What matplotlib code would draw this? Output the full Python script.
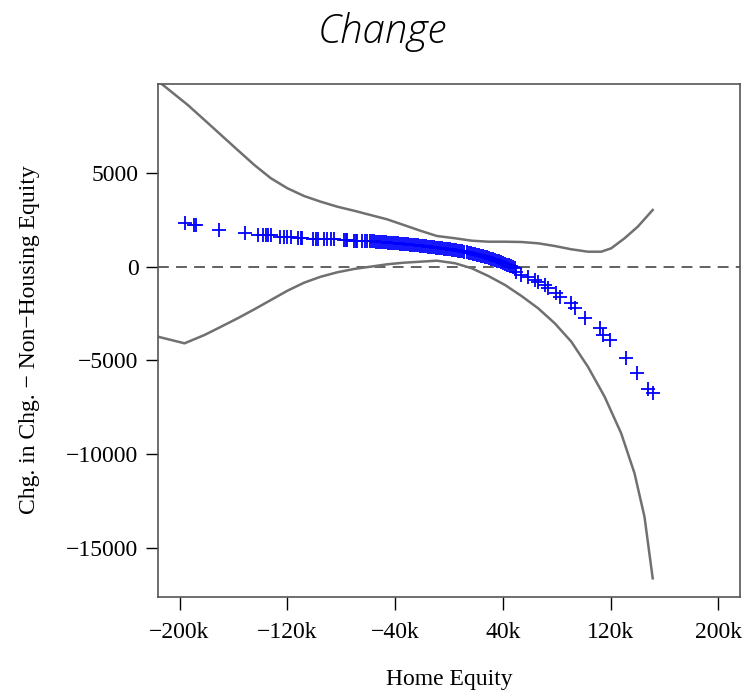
import numpy as np
import matplotlib
matplotlib.use("Agg")
import matplotlib.pyplot as plt

# home equity (thousands) and predicted effect for each observation
pts_x = [-196.3, -189.4, -187.7, -170.9, -151.4,
         -141.6, -138.4, -135.9, -134.2, -132.2, -125.3, -122.4, -119.9, -117.4,
         -112.0, -110.0, -108.8, -100.7, -98.9, -97.2, -92.8, -90.4, -87.8, -85.4,
         -78.0, -76.7, -75.6, -70.6, -69.4, -68.2, -64.7,
         -62, -60.5, -59, -57.5, -56, -54.5, -53, -51.5, -50, -48.5, -47, -45.5,
         -44, -42.5, -41, -39.5, -38, -36.5, -35, -33.5, -32, -30.5, -29, -27.5,
         -26, -24.5, -23, -21.5, -20, -18.5, -17, -15.5, -14, -12.5, -11, -9.5,
         -8, -6.5, -5, -3.5, -2, -0.5, 1, 2.5, 4, 5.5, 7, 8.5, 10, 11.5, 13,
         14.5, 16, 17.5, 19, 20.5, 22, 23.5, 25, 26.5, 28, 29.5, 31, 32.5, 34,
         35.5, 37, 38.5, 40, 41.5, 43, 44.5, 46, 47.5, 49,
         50.1, 53.8, 58.8, 63.7, 66.2, 71.1, 73.6, 79.7, 82.2, 90.8, 93.3, 100.7,
         111.8, 114.2, 119.2, 131.5, 139.6, 148.0, 151.2]
pts_y = [2337, 2246, 2246, 1979, 1802,
         1711, 1711, 1711, 1711, 1711, 1620, 1620, 1620, 1620,
         1567, 1567, 1567, 1513, 1513, 1513, 1481, 1481, 1481, 1481,
         1430, 1430, 1430, 1410, 1410, 1410, 1400,
         1395, 1388, 1381, 1374, 1367, 1360, 1353, 1345, 1337, 1328, 1318, 1308,
         1298, 1288, 1278, 1268, 1258, 1248, 1238, 1228, 1217, 1206, 1195, 1184,
         1173, 1162, 1150, 1138, 1126, 1114, 1102, 1090, 1077, 1064, 1051, 1038,
         1025, 1012, 999, 985, 971, 957, 942, 926, 910, 893, 875, 856, 836, 815, 793,
         770, 746, 721, 695, 668, 640, 611, 581, 550, 518, 485, 450, 414, 377,
         339, 300, 259, 217, 174, 130, 84, 37, -12, -62,
         -251, -428, -519, -695, -786, -963, -1139, -1406, -1588, -1941, -2209, -2744,
         -3278, -3637, -3904, -4883, -5653, -6540, -6754]

# confidence band
up_x = [-216.3, -212.3, -193.9, -181.5, -169.2, -156.9, -144.5, -132.2, -119.9,
        -107.6, -95.2, -82.9, -70.6, -58.3, -46.0, -33.6, -21.3, -9.0, 4.6, 16.9,
        29.2, 41.6, 53.8, 66.2, 78.5, 90.8, 103.1, 113.0, 120.4, 130.3, 140.1, 151.2]
up_y = [9950, 9733, 8664, 7862, 7059, 6257, 5455, 4744, 4209,
        3797, 3492, 3225, 3011, 2781, 2551, 2246, 1941, 1658, 1535, 1406,
        1353, 1353, 1337, 1267, 1123, 947, 818, 818, 1000, 1535, 2155, 3048]
lo_x = [-216.0, -196.3, -181.5, -169.2, -156.9, -144.5, -132.2, -119.9, -107.6,
        -95.2, -82.9, -70.6, -58.3, -46.0, -33.6, -21.3, -9.0, 4.6, 16.9, 29.2,
        41.6, 53.8, 66.2, 78.5, 90.8, 103.1, 115.5, 127.8, 137.7, 145.1, 151.2]
lo_y = [-3728, -4081, -3637, -3193, -2744, -2262, -1765, -1267, -840,
        -519, -283, -107, 16, 144, 230, 283, 337, 198, -70, -481,
        -963, -1551, -2209, -3011, -3995, -5332, -6936, -8894, -11033, -13354, -16648]

xticks = [-200, -120, -40, 40, 120, 200]
xtick_labels = ["\u2212200k", "\u2212120k", "\u221240k", "40k", "120k", "200k"]
yticks = [5000, 0, -5000, -10000, -15000]
ytick_labels = ["5000", "0", "\u22125000", "\u221210000", "\u221215000"]

serif = "Liberation Serif"

fig = plt.figure(figsize=(7.53, 6.97), dpi=100)
ax = fig.add_axes([158/753, 1 - 597/697, (740 - 158)/753, (597 - 84)/697])

ax.axhline(0, color="#555555", lw=1.3, ls=(0, (6, 4)), zorder=1)
ax.plot(up_x, up_y, color="#707070", lw=1.8, zorder=2)
ax.plot(lo_x, lo_y, color="#707070", lw=1.8, zorder=2)
ax.plot(pts_x, pts_y, ls="none", marker="+", ms=10, mew=1.3, color="#0000ff", zorder=3)

ax.set_xlim(-216, 216)
ax.set_ylim(-17647, 9786)
ax.set_xticks(xticks)
ax.set_xticklabels(xtick_labels, fontfamily=serif, fontsize=17)
ax.set_yticks(yticks)
ax.set_yticklabels(ytick_labels, fontfamily=serif, fontsize=17)
ax.tick_params(axis="x", length=9, width=1, color="black", pad=9)
ax.tick_params(axis="y", length=9, width=1, color="black", pad=5)
for s in ax.spines.values():
    s.set_color("#555555")
    s.set_linewidth(1.2)

fig.text(449/753, 1 - 680/697, "Home Equity", ha="center", va="center",
         fontfamily=serif, fontsize=17)
fig.text(30/753, 1 - 340/697, "Chg. in Chg. \u2212 Non\u2212Housing Equity", ha="center",
         va="center", rotation=90, fontfamily=serif, fontsize=17)
fig.text(382/753, 1 - 43/697, "Change", ha="center", va="baseline",
         fontfamily="Open Sans", style="italic", fontweight="light", fontsize=29)

fig.savefig("out.png", dpi=100)
